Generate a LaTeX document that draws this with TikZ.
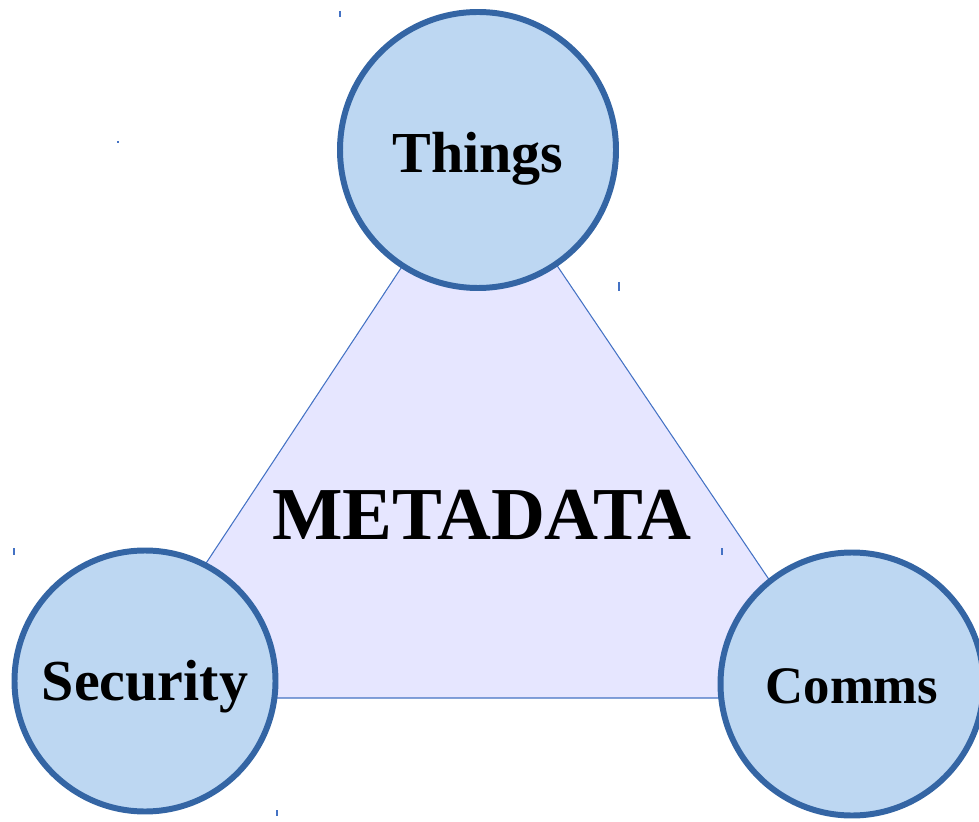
\documentclass[tikz,border=0pt]{standalone}
\usepackage{fontspec}
\setmainfont{Liberation Serif}
\definecolor{ringblue}{RGB}{52,101,164}
\definecolor{discblue}{RGB}{189,215,242}
\definecolor{trifill}{RGB}{230,230,255}
\definecolor{triline}{RGB}{68,114,196}
\begin{document}
\begin{tikzpicture}[
nd/.style = {draw=ringblue,line width=3.4pt,fill=discblue,circle,inner sep=0pt},
txt/.style = {font=\bfseries\fontsize{33}{36}\selectfont},
tri/.style = {draw=triline,line width=0.6pt,fill=trifill},
tck/.style = {draw=triline,line width=0.8pt}
]
  \useasboundingbox (0,0) rectangle (19.58,16.42);

  \coordinate (ta) at (9.58,13.42);
  \coordinate (tl) at (2.34,2.46);
  \coordinate (tr) at (16.98,2.46);
  \path[tri] (ta) -- (tl) -- (tr) -- cycle;

  \node[font=\bfseries\fontsize{42.5}{46}\selectfont] (meta) at (9.64,6.12) {METADATA};

  \node[nd,minimum size=5.52cm] (things) at (9.56,13.42) {};
  \node[nd,minimum size=5.22cm] (sec) at (2.9,2.8) {};
  \node[nd,minimum size=5.26cm] (comms) at (17.04,2.74) {};

  \node[txt] (thingslbl) at ([yshift=-0.18cm]things) {Things};
  \node[txt] (seclbl) at ([yshift=-0.12cm]sec) {Security};
  \node[txt,font=\bfseries\fontsize{30}{34}\selectfont] (commslbl) at ([yshift=-0.04cm]comms) {Comms};

  % small marks
  \path[tck] (6.8,16.2) -- (6.8,16.08);
  \path[tck] (2.36,13.6) -- (2.36,13.56);
  \path[tck] (12.38,10.78) -- (12.38,10.6);
  \path[tck] (0.28,5.46) -- (0.28,5.32);
  \path[tck] (14.44,5.46) -- (14.44,5.32);
  \path[tck] (5.54,0.22) -- (5.54,0.1);
\end{tikzpicture}
\end{document}
